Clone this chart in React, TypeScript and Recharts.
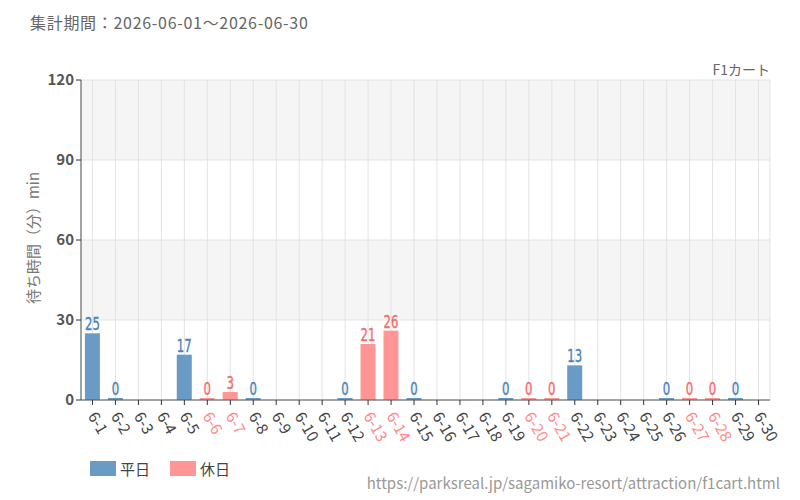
import { Bar, BarChart, CartesianGrid, XAxis, YAxis } from 'recharts'

const days = [
  '6-1', '6-2', '6-3', '6-4', '6-5', '6-6', '6-7', '6-8', '6-9', '6-10',
  '6-11', '6-12', '6-13', '6-14', '6-15', '6-16', '6-17', '6-18', '6-19', '6-20',
  '6-21', '6-22', '6-23', '6-24', '6-25', '6-26', '6-27', '6-28', '6-29', '6-30',
]
const holidays = ['6-6', '6-7', '6-13', '6-14', '6-20', '6-21', '6-27', '6-28']
const waits: (number | null)[] = [
  25, 0, null, null, 17, 0, 3, 0, null, null,
  null, 0, 21, 26, 0, null, null, null, 0, 0,
  0, 13, null, null, null, 0, 0, 0, 0, null,
]
const yTicks = [0, 30, 60, 90, 120]

const BLUE = '#6a9bc4'
const PINK = '#ff9595'
const BLUE_TXT = '#4a84b8'
const PINK_TXT = '#f06e6e'
const FONT = '"Noto Sans CJK JP", "Noto Sans", sans-serif'

const data = days.map((d, i) => ({ day: d, wait: waits[i], holiday: holidays.includes(d) }))

// bar + its value label, drawn together so the colour follows the day type
function BarShape(props: any) {
  const { x, y, width, height, payload } = props
  if (payload.wait == null) return <g />
  const fill = payload.holiday ? PINK : BLUE
  const zero = payload.wait === 0
  const top = zero ? y + height - 2 : y
  const cx = x + width / 2
  const ly = top - 3
  return (
    <g>
      <rect x={x} y={top} width={width} height={zero ? 2 : height} fill={fill} />
      <text
        x={cx}
        y={ly}
        textAnchor="middle"
        fill={payload.holiday ? PINK_TXT : BLUE_TXT}
        fontSize={18}
        fontFamily='"DejaVu Sans Condensed", "Liberation Sans Narrow", sans-serif'
        stroke={payload.holiday ? PINK_TXT : BLUE_TXT}
        strokeWidth={0.4}
        transform={`translate(${cx} ${ly}) scale(0.72 1) translate(${-cx} ${-ly})`}
      >
        {payload.wait}
      </text>
    </g>
  )
}

function DayTick(props: any) {
  const { x, y, payload } = props
  const hol = holidays.includes(payload.value)
  return (
    <text
      x={x - 5}
      y={y + 9}
      transform={`rotate(60 ${x - 5} ${y + 9})`}
      textAnchor="start"
      fill={hol ? '#ff8a8a' : '#444'}
      fontSize={15.5}
      fontFamily={FONT}
    >
      {payload.value}
    </text>
  )
}

export default function App() {
  return (
    <div style={{ position: 'absolute', left: 0, top: 0, width: 800, height: 500, background: '#fff', fontFamily: FONT }}>
      <div style={{ position: 'absolute', left: 30, top: 10, fontSize: 16, letterSpacing: 0.7, color: '#666' }}>
        集計期間：2026-06-01～2026-06-30
      </div>
      <div style={{ position: 'absolute', right: 30, top: 59, fontSize: 14, color: '#666' }}>F1カート</div>
      <div
        style={{
          position: 'absolute', left: 32, top: 238, fontSize: 15, color: '#777',
          transform: 'translate(-50%, -50%) rotate(-90deg)', whiteSpace: 'nowrap',
        }}
      >
        待ち時間（分）min
      </div>
      <BarChart
        width={800}
        height={500}
        data={data}
        margin={{ top: 80, right: 30, bottom: 40, left: 40 }}
        barCategoryGap="17%"
      >
        <CartesianGrid stroke="#e3e3e3" horizontalFill={['#f5f5f5', '#ffffff']} fillOpacity={1} />
        <XAxis
          dataKey="day"
          interval={0}
          height={60}
          tick={<DayTick />}
          tickLine={{ stroke: '#333' }}
          tickSize={5}
          axisLine={{ stroke: '#555' }}
        />
        <YAxis
          width={41}
          domain={[0, 120]}
          ticks={yTicks}
          tick={{ fill: '#555', fontSize: 15, fontWeight: 600 }}
          tickLine={{ stroke: '#333' }}
          tickSize={5}
          axisLine={{ stroke: '#555' }}
        />
        <Bar dataKey="wait" fill={BLUE} isAnimationActive={false} shape={<BarShape />} />
      </BarChart>
      <div style={{ position: 'absolute', left: 90, top: 458, display: 'flex', alignItems: 'center', fontSize: 15, color: '#444' }}>
        <span style={{ width: 26, height: 15, background: BLUE, display: 'inline-block', marginRight: 4 }} />
        <span style={{ marginRight: 20 }}>平日</span>
        <span style={{ width: 26, height: 15, background: PINK, display: 'inline-block', marginRight: 4 }} />
        <span>休日</span>
      </div>
      <div style={{ position: 'absolute', right: 20, top: 472, fontSize: 15, color: '#999' }}>
        https://parksreal.jp/sagamiko-resort/attraction/f1cart.html
      </div>
    </div>
  )
}
